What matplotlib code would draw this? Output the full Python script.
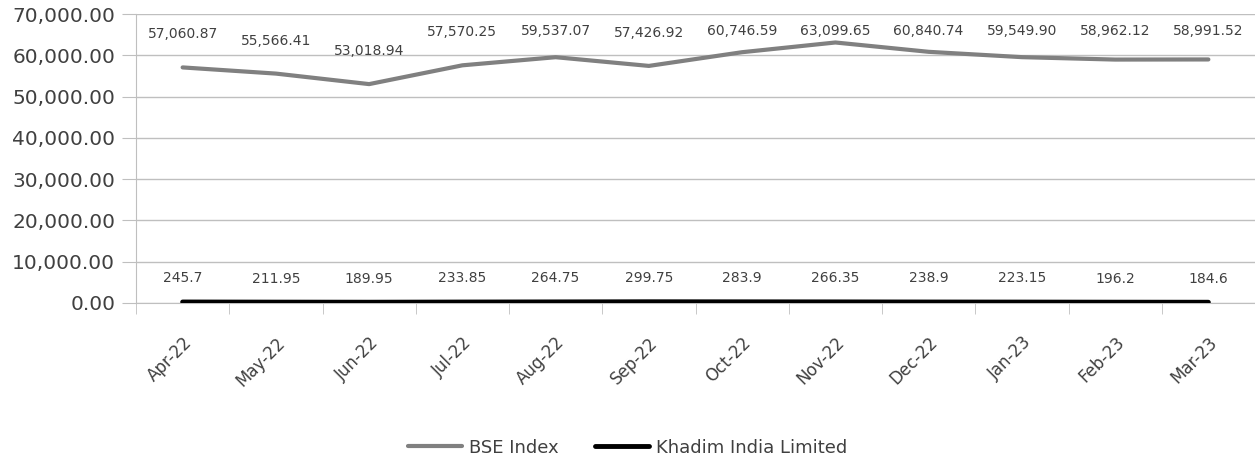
import matplotlib
matplotlib.use("Agg")
import matplotlib.pyplot as plt
from matplotlib.ticker import FuncFormatter, FixedLocator
import numpy as np

months = ["Apr-22", "May-22", "Jun-22", "Jul-22", "Aug-22", "Sep-22",
          "Oct-22", "Nov-22", "Dec-22", "Jan-23", "Feb-23", "Mar-23"]
bse_index = [57060.87, 55566.41, 53018.94, 57570.25, 59537.07, 57426.92,
             60746.59, 63099.65, 60840.74, 59549.90, 58962.12, 58991.52]
khadim = [245.7, 211.95, 189.95, 233.85, 264.75, 299.75,
          283.9, 266.35, 238.9, 223.15, 196.2, 184.6]
bse_labels = ["57,060.87", "55,566.41", "53,018.94", "57,570.25", "59,537.07", "57,426.92",
              "60,746.59", "63,099.65", "60,840.74", "59,549.90", "58,962.12", "58,991.52"]
khadim_labels = ["245.7", "211.95", "189.95", "233.85", "264.75", "299.75",
                 "283.9", "266.35", "238.9", "223.15", "196.2", "184.6"]

plt.rcParams["font.family"] = ["DejaVu Sans"]
text_color = "#404040"

fig = plt.figure(figsize=(12.55, 4.59), dpi=100)
ax = fig.add_axes([136 / 1255, 1 - 303 / 459, (1255 - 136) / 1255, 289 / 459])

x = np.arange(len(months))
ax.plot(x, bse_index, color="#808080", lw=3, solid_capstyle="round", label="BSE Index", zorder=3)
ax.plot(x, khadim, color="black", lw=3.5, solid_capstyle="round", label="Khadim India Limited", zorder=3)

# labels sit above the line but stay under the top gridline
for xi, v, s in zip(x, bse_index, bse_labels):
    ax.text(xi, min(v + 8000, 66000), s, ha="center", va="center", fontsize=10, color=text_color)
for xi, v, s in zip(x, khadim, khadim_labels):
    ax.annotate(s, (xi, v), xytext=(0, 17), textcoords="offset points", ha="center", va="center",
                fontsize=10, color=text_color)

ax.set_xlim(-0.5, len(months) - 0.5)
ax.set_ylim(0, 70000)
ax.set_yticks(np.arange(0, 70001, 10000))
ax.yaxis.set_major_formatter(FuncFormatter(lambda v, p: f"{v:,.2f}"))
ax.grid(axis="y", color="#bfbfbf", lw=1)
ax.set_axisbelow(True)

ax.set_xticks(x)
ax.set_xticklabels(months, rotation=45, ha="right", rotation_mode="anchor", fontsize=12, color=text_color)
ax.xaxis.set_minor_locator(FixedLocator(np.arange(-0.5, len(months), 1)))
ax.tick_params(axis="x", which="major", length=0, pad=22)
ax.tick_params(axis="x", which="minor", length=8, color="#bfbfbf")
ax.tick_params(axis="y", length=10, color="#bfbfbf", labelsize=14.5, labelcolor=text_color, pad=5)

for side in ["top", "right"]:
    ax.spines[side].set_visible(False)
ax.spines["left"].set_color("#bfbfbf")
ax.spines["bottom"].set_color("#bfbfbf")

fig.legend(loc="lower center", bbox_to_anchor=(0.5, -0.03), ncol=2, frameon=False,
           fontsize=13, labelcolor=text_color, handlelength=3.0, columnspacing=2.0, handletextpad=0.4)

fig.savefig("out.png", dpi=100)
